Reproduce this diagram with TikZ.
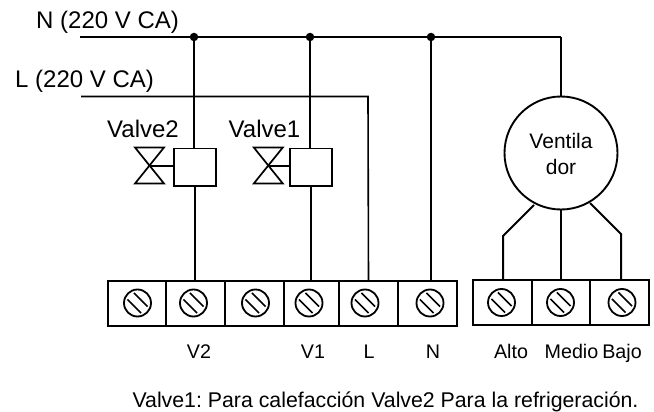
\documentclass[tikz,border=0pt]{standalone}
\usepackage{fontspec}
\setmainfont{Liberation Sans}
\frenchspacing
\tikzset{
  x=1pt,y=-1pt,
  wire/.style={line width=2pt,black},
  thinwire/.style={line width=1.6pt,black},
  bus/.style={line width=2.3pt,black},
  cell/.style={draw=black,line width=1.9pt,minimum height=45pt,inner sep=0pt,outer sep=0pt},
  coilbox/.style={draw=black,line width=1.7pt,minimum width=42pt,minimum height=37.5pt,inner sep=0pt,outer sep=0pt},
  screw/.style={circle,draw=black,line width=1.8pt,minimum size=27pt,inner sep=0pt,outer sep=0pt,
    path picture={
      \draw[line width=1.6pt] ([shift={(-10pt,3.6pt)}]path picture bounding box.center) -- ([shift={(3.6pt,-10pt)}]path picture bounding box.center);
      \draw[line width=1.6pt] ([shift={(-3.6pt,10pt)}]path picture bounding box.center) -- ([shift={(10pt,-3.6pt)}]path picture bounding box.center);
    }},
  dot/.style={circle,fill=black,minimum size=8.5pt,inner sep=0pt,outer sep=0pt},
  big/.style={inner sep=0pt,anchor=base west,font=\fontsize{24}{26}\selectfont},
  mid/.style={inner sep=0pt,anchor=base,font=\fontsize{21}{26}\selectfont},
  small/.style={inner sep=0pt,anchor=base,font=\fontsize{19.7}{24}\selectfont},
  foottext/.style={inner sep=0pt,anchor=base,font=\fontsize{21.3}{24}\selectfont},
  valvesym/.style={line width=1.7pt,black,line join=miter},
  fancircle/.style={circle,draw=black,line width=1.9pt,minimum size=113pt,inner sep=0pt,outer sep=0pt},
}
\begin{document}
\begin{tikzpicture}
\useasboundingbox (0,0) rectangle (654,412);
% terminal blocks
\node[cell,minimum width=58.5pt] (t1) at (136.8,303.5) {};
\node[cell,minimum width=59pt] (t2) at (195.5,303.5) {};
\node[cell,minimum width=59pt] (t3) at (254.5,303.5) {};
\node[cell,minimum width=55pt] (t4) at (311.5,303.5) {};
\node[cell,minimum width=59pt] (t5) at (368.5,303.5) {};
\node[cell,minimum width=59pt] (t6) at (427.5,303.5) {};
\node[cell,minimum width=59pt] (t7) at (502.5,302.5) {};
\node[cell,minimum width=58pt] (t8) at (561,302.5) {};
\node[cell,minimum width=59pt] (t9) at (619.5,302.5) {};
\node[screw] (s1) at (137.5,303) {};
\node[screw] (s2) at (193.5,303) {};
\node[screw] (s3) at (255.5,303) {};
\node[screw] (s4) at (309,303) {};
\node[screw] (s5) at (365,303) {};
\node[screw] (s6) at (430,303) {};
\node[screw] (s7) at (501.5,302.5) {};
\node[screw] (s8) at (560.5,302.5) {};
\node[screw] (s9) at (622,302.5) {};
% coils, fan
\node[coilbox] (c2) at (195,167.3) {};
\node[coilbox] (c1) at (311,167.3) {};
\node[fancircle,align=center] (fan) at (561,153) {};
\node[mid] (fan1) at (561,149) {Ventila};
\node[mid] (fan2) at (561,175) {dor};
% buses
\coordinate (nstart) at (80,37);
\coordinate (nend) at (561,37);
\coordinate (lstart) at (81,96.5);
\coordinate (lcorner) at (368,96.5);
\node[dot] (d1) at (194,37) {};
\node[dot] (d2) at (310,37) {};
\node[dot] (d3) at (431,37) {};
\draw[bus] (nstart) -- (nend);
\draw[wire] (nend) -- (fan.north);
\draw[thinwire] (lstart) -- (lcorner) -- (t5.north);
\draw[wire] (d1) -- (d1 |- c2.north);
\draw[wire] (d2) -- (d2 |- c1.north);
\draw[wire] (d3) -- (d3 |- t6.north);
\draw[wire] (c2.south) -- (c2.south |- t2.north);
\draw[wire] (c1.south) -- (c1.south |- t4.north);
% valve symbols
\coordinate (v2) at (149.5,165.5);
\coordinate (v1) at (268.3,165.5);
\draw[valvesym] (135,147.5) -- (164,147.5) -- (135,183.5) -- (164,183.5) -- cycle;
\draw[valvesym] (253.8,147.5) -- (282.8,147.5) -- (253.8,183.5) -- (282.8,183.5) -- cycle;
\draw[wire] (v2) -- (v2 -| c2.west);
\draw[wire] (v1) -- (v1 -| c1.west);
% fan wires
\coordinate (a1) at (534,205);
\coordinate (a2) at (503,236);
\coordinate (b1) at (590,203);
\coordinate (b2) at (621,234);
\draw[wire] (a1) -- (a2) -- (a2 |- t7.north);
\draw[wire] (fan.south) -- (fan.south |- t8.north);
\draw[wire] (b1) -- (b2) -- (b2 |- t9.north);
% labels
\node[big] (ln) at (36,29) {N (220 V CA)};
\node[big] (ll) at (15,88) {L (220 V CA)};
\node[big] (lv2) at (107,138) {Valve2};
\node[big] (lv1) at (228.5,138) {Valve1};
\node[small] (tv2) at (199,358) {V2};
\node[small] (tv1) at (313,358) {V1};
\node[small] (tl) at (369,358) {L};
\node[small] (tn) at (433,358) {N};
\node[small] (ta) at (511,358) {Alto};
\node[small] (tm) at (571.5,358) {Medio};
\node[small] (tb) at (622,358) {Bajo};
\node[foottext] (foot) at (385.5,407.5) {Valve1: Para calefacción Valve2 Para la refrigeración.};
\end{tikzpicture}
\end{document}
